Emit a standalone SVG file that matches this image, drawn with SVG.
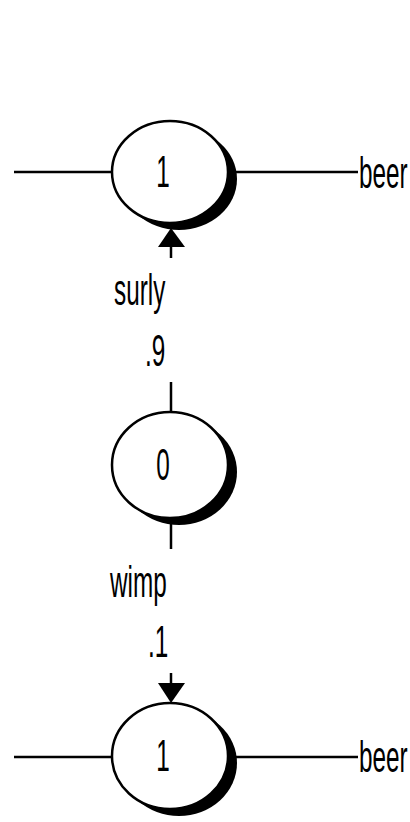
<svg xmlns="http://www.w3.org/2000/svg" width="410" height="822" viewBox="0 0 410 822">
  <style>
    .edge { stroke: #000; stroke-width: 2.5; fill: none; }
    .head { fill: #000; }
    .shadow { fill: #000; }
    .body { fill: #fff; stroke: #000; stroke-width: 2.5; }
    text { font-family: "Liberation Sans", Arial, sans-serif; font-size: 45px; fill: #000; }
  </style>
  <rect width="410" height="822" fill="#fff"/>

  <!-- connectors -->
  <g id="connectors">
    <line class="edge" x1="14" y1="172" x2="170" y2="172"/>
    <line class="edge" x1="170" y1="172" x2="358" y2="172"/>
    <line class="edge" x1="14" y1="757" x2="170" y2="757"/>
    <line class="edge" x1="170" y1="757" x2="358" y2="757"/>
    <!-- surly branch: middle node up to top node -->
    <line class="edge" x1="171" y1="382" x2="171" y2="412"/>
    <line class="edge" x1="171" y1="245" x2="171" y2="258"/>
    <polygon class="head" points="171,228 158,247 185,247"/>
    <!-- wimp branch: middle node down to bottom node -->
    <line class="edge" x1="171" y1="520" x2="171" y2="549"/>
    <line class="edge" x1="171" y1="673" x2="171" y2="685"/>
    <polygon class="head" points="158,683 185,683 171,703"/>
  </g>

  <g id="node-top">
    <ellipse class="shadow" cx="179" cy="179" rx="58" ry="51"/>
    <ellipse class="body" cx="170" cy="172" rx="58" ry="51"/>
    <text transform="translate(163,187) scale(0.54,1)" text-anchor="middle">1</text>
  </g>

  <g id="node-middle">
    <ellipse class="shadow" cx="179" cy="472" rx="58" ry="53"/>
    <ellipse class="body" cx="170" cy="465" rx="58" ry="53"/>
    <text transform="translate(163,480) scale(0.54,1)" text-anchor="middle">0</text>
  </g>

  <g id="node-bottom">
    <ellipse class="shadow" cx="179" cy="763" rx="58" ry="53"/>
    <ellipse class="body" cx="170" cy="756" rx="58" ry="53"/>
    <text transform="translate(163,771) scale(0.54,1)" text-anchor="middle">1</text>
  </g>

  <g id="labels">
    <text transform="translate(359,188) scale(0.54,1)">beer</text>
    <text transform="translate(359,772) scale(0.54,1)">beer</text>
    <text transform="translate(114,305) scale(0.54,1)">surly</text>
    <text transform="translate(145,366) scale(0.54,1)">.9</text>
    <text transform="translate(110,597) scale(0.54,1)">wimp</text>
    <text transform="translate(148,657) scale(0.54,1)">.1</text>
  </g>
</svg>
